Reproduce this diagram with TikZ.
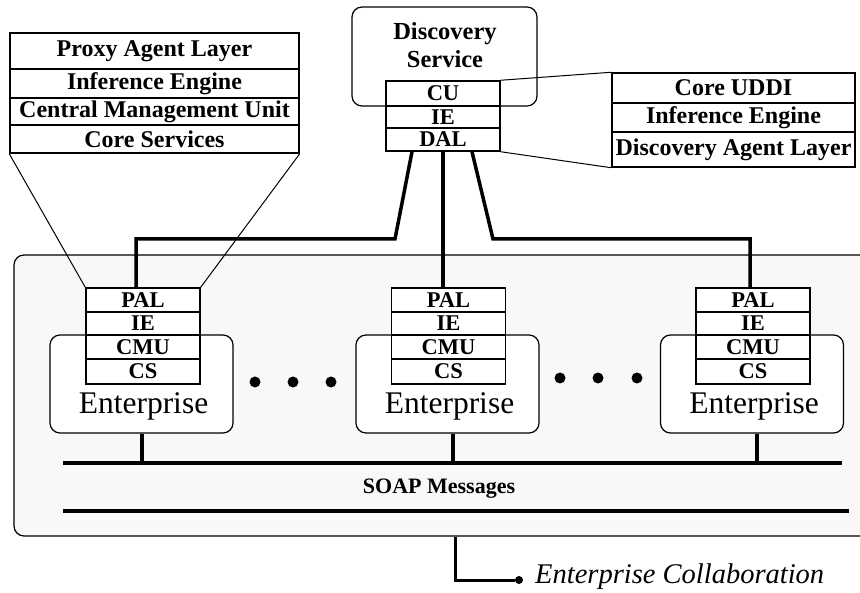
\documentclass[tikz,border=0pt]{standalone}
\usepackage{fontspec}
\setmainfont{Liberation Serif}
\definecolor{panel}{RGB}{248,248,248}
\begin{document}
\begin{tikzpicture}[x=1pt,y=-1pt,
  cell/.style={draw, line width=1.5pt, fill=white, inner sep=0pt, font=\bfseries\fontsize{24}{26}\selectfont},
  scell/.style={cell, font=\bfseries\fontsize{22.5}{24}\selectfont},
  rbox/.style={draw, line width=1.2pt, rounded corners=10pt, fill=white, inner sep=0pt},
  bus/.style={line width=4pt},
  link/.style={line width=3.5pt},
  thin/.style={line width=1pt},
  dot/.style={circle, fill=black, inner sep=0pt, minimum size=11pt},
  entlabel/.style={font=\fontsize{31.5}{33}\selectfont, inner sep=0pt},
]
\useasboundingbox (0,0) rectangle (860,593);
\clip (0,0) rectangle (860,593);
\fill[white] (0,0) rectangle (860,593);

% system panel
\node[draw, line width=1.2pt, rounded corners=10pt, fill=panel, minimum width=861pt, minimum height=281pt, inner sep=0pt] (sys) at (444.5,395.5) {};

% left proxy table
\node[cell, minimum width=289pt, minimum height=36pt] (pal) at (154.5,51) {Proxy Agent Layer};
\node[cell, minimum width=289pt, minimum height=29pt] (pie) at (154.5,83.5) {Inference Engine};
\node[cell, minimum width=289pt, minimum height=27pt] (pcmu) at (154.5,111.5) {Central Management Unit};
\node[cell, minimum width=289pt, minimum height=28pt] (pcs) at (154.5,139) {Core Services};

% discovery service
\node[rbox, minimum width=185pt, minimum height=99pt] (ds) at (444.5,56.5) {};
\node[font=\bfseries\fontsize{24.5}{28}\selectfont, align=center, inner sep=0pt] (dslabel) at (445,45) {Discovery\\Service};
\node[scell, minimum width=114pt, minimum height=25pt] (cu) at (443,93.5) {CU};
\node[scell, minimum width=114pt, minimum height=22pt] (die) at (443,117) {IE};
\node[scell, minimum width=114pt, minimum height=23pt] (dal) at (443,139.5) {DAL};

% right discovery table
\node[cell, minimum width=243pt, minimum height=30pt] (ruddi) at (733.5,88) {Core UDDI};
\node[cell, minimum width=243pt, minimum height=29pt] (rie) at (733.5,117.5) {Inference Engine};
\node[cell, minimum width=243pt, minimum height=35pt] (rdal) at (733.5,149.5) {Discovery Agent Layer};

\draw[thin] (cu.north east) -- (ruddi.north west);
\draw[thin] (dal.south east) -- (rdal.south west);

% enterprises
\foreach \i/\sx/\ex in {1/143/141.5, 2/448.5/447.5, 3/753/752} {
  \node[rbox, minimum width=183pt, minimum height=98pt] (ent\i) at (\ex,384) {};
  \node[entlabel] (entl\i) at (\ex+2,406) {Enterprise};
  \node[scell, minimum width=114pt, minimum height=24pt] (epal\i) at (\sx,300) {PAL};
  \node[scell, minimum width=114pt, minimum height=23pt] (eie\i) at (\sx,323.5) {IE};
  \node[scell, minimum width=114pt, minimum height=24pt] (ecmu\i) at (\sx,347) {CMU};
  \node[scell, minimum width=114pt, minimum height=25pt] (ecs\i) at (\sx,371.5) {CS};
}

% funnel
\draw[thin] (pcs.south west) -- (epal1.north west);
\draw[thin] (pcs.south east) -- (epal1.north east);

% dots
\node[dot] (d1) at (255,382) {};
\node[dot] (d2) at (293,382) {};
\node[dot] (d3) at (331,382) {};
\node[dot] (d4) at (560,378) {};
\node[dot] (d5) at (598,378) {};
\node[dot] (d6) at (637,378) {};

% links from DAL
\coordinate (j1) at (395,239);
\coordinate (j2) at (493,239);
\draw[link] ([xshift=-31pt]dal.south) -- (j1) -| ([xshift=-7pt]epal1.north);
\draw[link] (dal.south) -- (dal.south |- epal2.north);
\draw[link] ([xshift=29pt]dal.south) -- (j2) -| ([xshift=-3pt]epal3.north);

% buses
\coordinate (b1w) at (63,463);
\coordinate (b1e) at (842,463);
\coordinate (b2w) at (63,511);
\coordinate (b2e) at (849,511);
\draw[bus] (b1w) -- (b1e);
\draw[bus] (b2w) -- (b2e);
\draw[bus] (ent1.south) -- (ent1.south |- b1w);
\draw[bus] ([xshift=5pt]ent2.south) -- ++(0,30);
\draw[bus] ([xshift=5pt]ent3.south) -- ++(0,30);
\node[font=\bfseries\fontsize{22}{24}\selectfont, inner sep=0pt] (soap) at (439,489) {SOAP Messages};

% enterprise collaboration
\node[circle, fill=black, inner sep=0pt, minimum size=8pt] (ecdot) at (519,580) {};
\node[font=\itshape\fontsize{28.5}{30}\selectfont, inner sep=0pt, anchor=west] (ectext) at (535,577) {Enterprise Collaboration};
\draw[line width=3pt] ([xshift=10.5pt]sys.south) |- (ecdot);
\end{tikzpicture}
\end{document}
